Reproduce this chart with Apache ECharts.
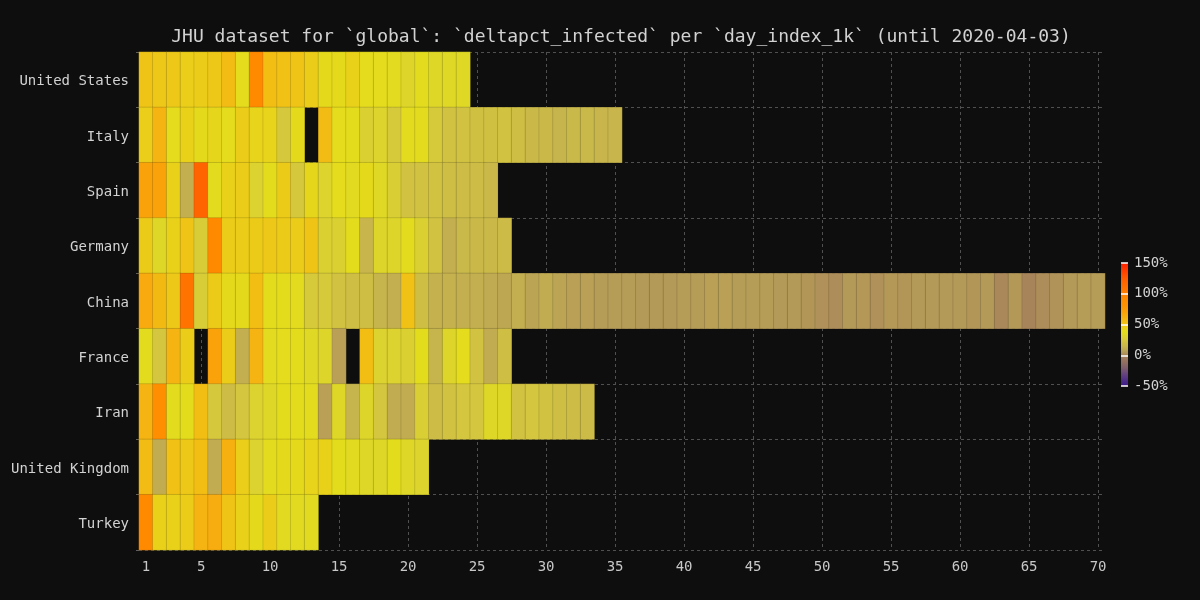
<!DOCTYPE html>
<html>
<head>
<meta charset="utf-8">
<script src="https://cdn.jsdelivr.net/npm/echarts@6/dist/echarts.min.js"></script>
<style>html,body{margin:0;padding:0;background:#0e0e0e;}#c{width:1200px;height:600px;}</style>
</head>
<body>
<div id="c"></div>
<script>
const days = ['1','2','3','4','5','6','7','8','9','10','11','12','13','14','15','16','17','18','19','20',
  '21','22','23','24','25','26','27','28','29','30','31','32','33','34','35','36','37','38','39','40',
  '41','42','43','44','45','46','47','48','49','50','51','52','53','54','55','56','57','58','59','60',
  '61','62','63','64','65','66','67','68','69','70'];
const countries = ['United States','Italy','Spain','Germany','China','France','Iran','United Kingdom','Turkey'];

const usVals = [50,48,48,45,46,48,55,40,92,54,52,50,46,41,41,44,40,40,37,32,38,33,34,34];
const italyVals = [45,60,40,44,41,42,40,46,43,43,25,41,null,55,40,39,29,31,26,38,38,26,22,22,21,21,22,20,17,17,14,16,16,15,15];
const spainVals = [70,70,44,12,120,38,44,46,30,39,47,25,42,31,40,36,41,34,28,22,22,22,20,19,19,17];
const germanyVals = [47,33,44,50,27,92,46,46,47,48,47,46,50,29,29,39,15,32,32,38,29,22,12,16,17,17,18];
const chinaVals = [65,57,48,108,27,47,41,41,54,39,39,38,26,26,22,20,20,14,12,52,20,13,13,12,12,10,9,12,8,11,
  8,7,7,6,5.5,6,5,5,5,5.5,5.5,7,7,6,6,5.5,5,5,4,3,2,5,4.5,3,4.5,4,5,5,5,5,4,5,1,4.5,0,2,3.5,5,5.5,5.5];
const franceVals = [38,24,60,46,null,70,46,12,60,37,40,39,34,32,7,null,54,30,30,29,39,14,32,40,22,11,20];
const iranVals = [60,88,38,39,54,25,19,24,30,33,39,39,38,7,33,14,32,24,11,11,28,19,22,24,24,33,33,22,24,22,20,19,18];
const ukVals = [55,11,52,48,54,11,62,45,30,38,41,41,43,44,39,36,33,33,39,33,31];
const turkeyVals = [92,44,44,46,60,64,50,44,41,46,36,36,36];

const rows = [usVals, italyVals, spainVals, germanyVals, chinaVals, franceVals, iranVals, ukVals, turkeyVals];
const colorTicks = [-50, 0, 50, 100, 150];

const data = [];
rows.forEach((vals, r) => {
  vals.forEach((v, i) => { if (v !== null) data.push([i, r, v]); });
});

const palette = ['#3c1a8a','#462488','#502e86','#5c3a82','#68467c','#745274','#805e6c','#8a6864','#947060','#9e785e',
  '#a8845a','#b49a58','#c0aa52','#c8b64c','#cebe44','#d6c83c','#dcd230','#e0da22','#e4dc1c','#eace1a',
  '#f0c416','#f2bc14','#f5b412','#f8aa0e','#f9a20a','#fb9a06','#fd9404','#fe9002','#ff8c00','#ff8600',
  '#ff8000','#ff7800','#ff7000','#ff6a00','#ff6400','#ff5a00','#ff5000','#ff4400','#ff3800','#ff2c00','#ff2000'];

const mono = 'DejaVu Sans Mono';
const every5 = (idx) => (idx + 1) % 5 === 0;
const chart = echarts.init(document.getElementById('c'));
chart.setOption({
  backgroundColor: '#0e0e0e',
  animation: false,
  title: {
    text: 'JHU dataset for `global`: `deltapct_infected` per `day_index_1k` (until 2020-04-03)',
    left: 621, top: 28, padding: 0, textAlign: 'center',
    textStyle: { color: '#d2d2d2', fontFamily: mono, fontSize: 18, fontWeight: 'normal' }
  },
  grid: [
    { left: 139, right: 95, top: 52, bottom: 50 },
    { left: 1121, width: 7, top: 263, height: 123 }
  ],
  xAxis: [
    {
      type: 'category', data: days, gridIndex: 0,
      axisLine: { show: false },
      axisTick: { show: false },
      axisLabel: { interval: (i) => i === 0 || every5(i), color: '#c8c8c8', fontFamily: mono, fontSize: 14, margin: 10 },
      splitLine: { show: true, alignWithLabel: true, interval: (i) => every5(i),
        lineStyle: { type: [3, 3], color: '#505050', width: 1 } }
    },
    { type: 'value', gridIndex: 1, show: false, min: 0, max: 1 }
  ],
  yAxis: [
    {
      type: 'category', data: countries, inverse: true, gridIndex: 0,
      axisLine: { show: false },
      axisTick: { show: true, length: 3, lineStyle: { color: '#606060' } },
      axisLabel: { color: '#d2d2d2', fontFamily: mono, fontSize: 14, margin: 10,
        formatter: (v) => '{a|' + v + '}',
        rich: { a: { color: '#d2d2d2', fontFamily: mono, fontSize: 14, padding: [4, 0, 0, 0] } } },
      splitLine: { show: true, lineStyle: { type: [3, 3], color: '#505050', width: 1 } }
    },
    {
      type: 'value', gridIndex: 1, min: colorTicks[0], max: colorTicks[colorTicks.length - 1], interval: 50,
      position: 'right', z: 10,
      axisLine: { show: false }, axisTick: { show: false },
      axisLabel: { color: '#d2d2d2', fontFamily: mono, fontSize: 14, margin: 6, formatter: '{value}%' },
      splitLine: { show: true, lineStyle: { color: '#ffffff', width: 1.5 } }
    }
  ],
  visualMap: {
    type: 'continuous', min: -50, max: 150, seriesIndex: 0,
    calculable: false, text: null, showLabel: false,
    orient: 'vertical', left: 1121, top: 263, padding: 0,
    itemWidth: 7, itemHeight: 123,
    inRange: { color: palette },
    outOfRange: { color: '#ff2000' }
  },
  series: [{
    type: 'heatmap', xAxisIndex: 0, yAxisIndex: 0,
    data: data,
    itemStyle: { borderColor: 'rgba(0,0,0,0.12)', borderWidth: 1 },
    emphasis: { disabled: true }
  }]
});
</script>
</body>
</html>
